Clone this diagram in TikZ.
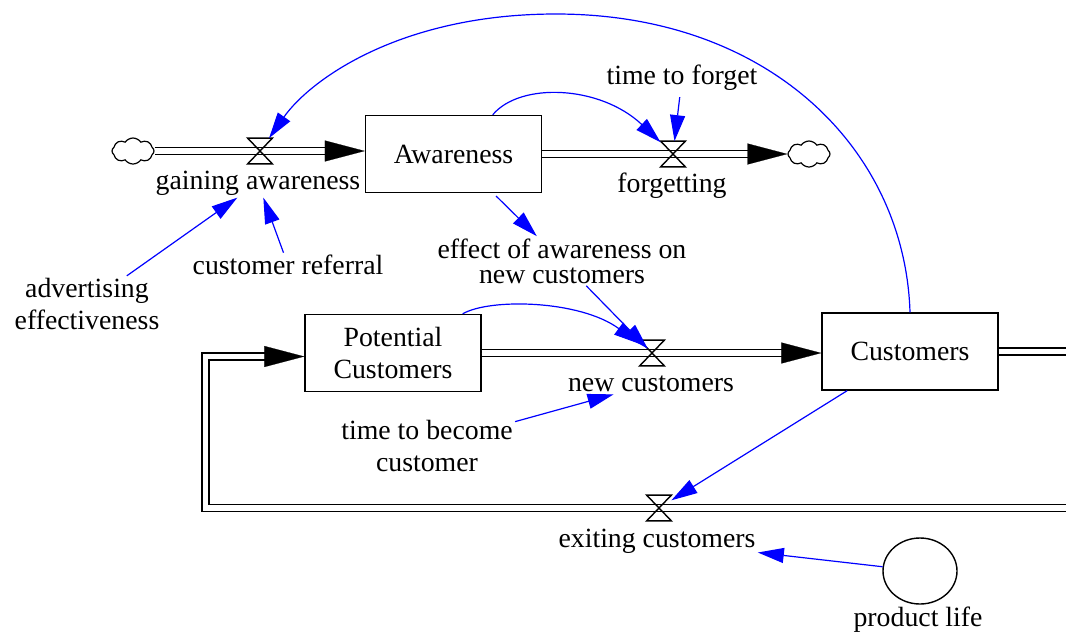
\documentclass[tikz,border=0pt]{standalone}
\usepackage{fontspec}
\setmainfont{Liberation Serif}
\usetikzlibrary{arrows.meta,shapes.geometric,shapes.symbols,calc}
\begin{document}
\begin{tikzpicture}[x=0.5pt,y=-0.5pt,
  every node/.style={font=\fontsize{13.9}{16}\selectfont},
  stock/.style={draw, line width=0.7pt, minimum width=88pt, minimum height=38.5pt, inner sep=0pt, align=center},
  lbl/.style={inner sep=1pt, align=center},
  valve/.style={inner sep=0pt, minimum width=12pt, minimum height=12.5pt},
  vline/.style={draw, line width=0.7pt},
  pipe/.style={draw=black, double=white, line width=0.85pt, double distance=2.7pt, shorten >=19pt},
  flowtip/.style={draw=white, line width=0.1pt, -{Triangle[length=20pt,width=10.5pt,color=black,fill=black]}},
  link/.style={draw=blue, line width=0.6pt, -{Triangle[length=13pt,width=7.5pt,color=blue,fill=blue]}},
  src/.style={cloud, cloud puffs=8, cloud puff arc=110, draw, line width=0.6pt, minimum width=21pt, minimum height=13pt, inner sep=0pt}
]
\useasboundingbox (0,0) rectangle (1066,634);
\clip (0,0) rectangle (1066,634);

% stocks, clouds, valves, labels
\node[src] (lc) at (133,151) {};
\node[stock] (aw) at (453.5,154) {Awareness};
\node[src] (rc) at (809,154) {};
\node[valve] (gv) at (260,151) {};
\node[valve] (fv) at (673,154) {};
\node[lbl] (ga) at (258,183) {gaining awareness};
\node[lbl] (fg) at (672,186) {forgetting};
\node[lbl] (tf) at (682,78) {time to forget};
\node[lbl] (adv) at (87,304) {advertising\\effectiveness};
\node[lbl] (cr) at (288,265) {customer referral};
\node[lbl] (eff) at (562,261) {effect of awareness on\\[-3.5pt]new customers};
\node[stock] (pc) at (393,353) {Potential\\Customers};
\node[stock] (cust) at (910,351.5) {Customers};
\node[valve] (nv) at (652,353) {};
\node[lbl] (nc) at (651,384) {new customers};
\node[lbl] (tb) at (427,446) {time to become\\customer};
\node[valve] (ev) at (659,508) {};
\node[lbl] (ex) at (657,541) {exiting customers};
\node[draw, ellipse, line width=0.7pt, minimum width=37pt, minimum height=33pt, inner sep=0pt] (pl) at (920,571) {};
\node[lbl] (plt) at (918,620) {product life};

% pipes
\draw[pipe] (lc.east) -- (lc.east -| aw.west);
\draw[flowtip] (lc.east) -- (lc.east -| aw.west);
\draw[pipe] (aw.east) -- (aw.east -| rc.west);
\draw[flowtip] (aw.east) -- (aw.east -| rc.west);
\draw[pipe] (pc.east) -- (pc.east -| cust.west);
\draw[flowtip] (pc.east) -- (pc.east -| cust.west);
\draw[pipe] (cust.east) -- ++(120,0) |- (ev.center) -- (205.5,508) |- ([yshift=-1.75pt]pc.west);
\draw[flowtip] (205.5,356.5) -- ([yshift=-1.75pt]pc.west);

% valves
\foreach \v in {gv,fv,nv,ev}
  \draw[vline] (\v.north west) -- (\v.north east) -- (\v.south west) -- (\v.south east) -- cycle;

% links
\draw[link] (aw.45) .. controls (520,82) and (600,85) .. (fv);
\draw[link, shorten <=2pt] (tf) -- (fv);
\draw[link] (cust.north) .. controls (905,150) and (770,14) .. (556,14) .. controls (400,14) and (310,80) .. (gv);
\draw[link] (adv) -- (ga);
\draw[link] (cr) -- (ga);
\draw[link, shorten <=2pt] (aw) -- (eff);
\draw[link, shorten >=3pt] (eff) -- (nv.center);
\draw[link] ([xshift=-9.5pt]pc.north east) .. controls (490,298) and (580,300) .. (nv);
\draw[link] (tb) -- (nc);
\draw[link] (cust) -- (ev);
\draw[link] (pl) -- (ex);
\end{tikzpicture}
\end{document}
